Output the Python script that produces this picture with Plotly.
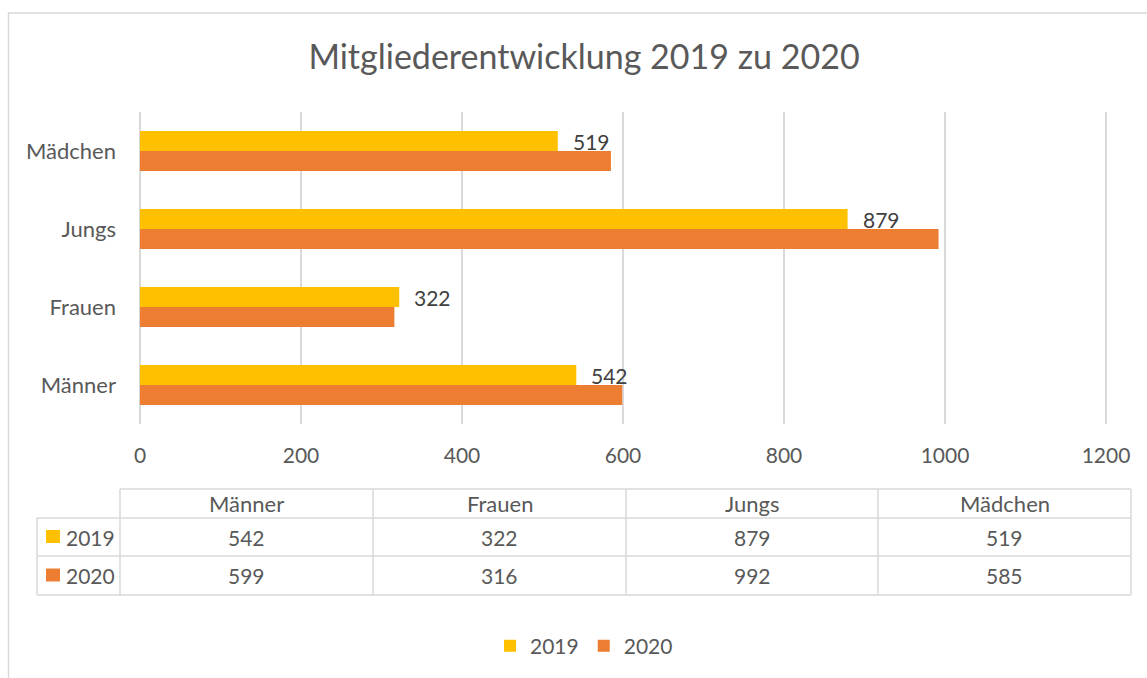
import plotly.graph_objects as go

categories = ["Männer", "Frauen", "Jungs", "Mädchen"]
series_names = ["2019", "2020"]
values_2019 = [542, 322, 879, 519]
values_2020 = [599, 316, 992, 585]
x_ticks = [0, 200, 400, 600, 800, 1000, 1200]

W, H = 1147, 678
FONT = "Lato"
TXT = "#595959"
GRID = "#D9D9D9"
C2019 = "#FFC000"
C2020 = "#ED7D31"
NUM_SIZE = 21
LBL_SIZE = 22


def px(x):
    return x / W


def py(y):
    return 1 - y / H


fig = go.Figure()
fig.add_trace(go.Bar(y=categories, x=values_2020, name="2020", orientation="h",
                     marker=dict(color=C2020, line=dict(width=0)), legendrank=2))
fig.add_trace(go.Bar(y=categories, x=values_2019, name="2019", orientation="h",
                     marker=dict(color=C2019, line=dict(width=0)), legendrank=1))

annotations = []
for c, v in zip(categories, values_2019):
    annotations.append(dict(x=v, y=c, xref="x", yref="y", text=str(v), showarrow=False,
                            xanchor="left", yanchor="middle", xshift=13, yshift=10,
                            font=dict(family=FONT, size=NUM_SIZE, color="#404040")))

shapes = []
shapes.append(dict(type="line", xref="paper", yref="paper", x0=px(8.5), x1=px(8.5), y0=py(13), y1=py(700),
                   line=dict(color=GRID, width=1.5)))
shapes.append(dict(type="line", xref="paper", yref="paper", x0=px(8), x1=px(1160), y0=py(13), y1=py(13),
                   line=dict(color=GRID, width=1.5)))

col_edges = [120, 373, 626, 878, 1131]
row_edges = [489, 518, 556, 595]
label_left = 37


def hline(y, x0, x1):
    shapes.append(dict(type="line", xref="paper", yref="paper", x0=px(x0), x1=px(x1), y0=py(y), y1=py(y),
                       line=dict(color=GRID, width=1.5)))


def vline(x, y0, y1):
    shapes.append(dict(type="line", xref="paper", yref="paper", x0=px(x), x1=px(x), y0=py(y0), y1=py(y1),
                       line=dict(color=GRID, width=1.5)))


hline(row_edges[0], col_edges[0], col_edges[-1])
for y in row_edges[1:]:
    hline(y, label_left, col_edges[-1])
vline(label_left, row_edges[1], row_edges[-1])
for x in col_edges:
    vline(x, row_edges[0], row_edges[-1])

for i, c in enumerate(categories):
    cx = (col_edges[i] + col_edges[i + 1]) / 2
    cy = (row_edges[0] + row_edges[1]) / 2
    annotations.append(dict(x=px(cx), y=py(cy), xref="paper", yref="paper", text=c, showarrow=False,
                            xanchor="center", yanchor="middle", font=dict(family=FONT, size=LBL_SIZE, color=TXT)))

rows = [("2019", values_2019, C2019), ("2020", values_2020, C2020)]
for r, (name, vals, color) in enumerate(rows):
    cy = (row_edges[r + 1] + row_edges[r + 2]) / 2
    shapes.append(dict(type="rect", xref="paper", yref="paper", x0=px(46), x1=px(60),
                       y0=py(cy - 7), y1=py(cy + 6), fillcolor=color, line=dict(width=0)))
    annotations.append(dict(x=px(64), y=py(cy), xref="paper", yref="paper", text=name, showarrow=False,
                            xanchor="left", yanchor="middle", font=dict(family=FONT, size=NUM_SIZE, color=TXT)))
    for i, v in enumerate(vals):
        cx = (col_edges[i] + col_edges[i + 1]) / 2
        annotations.append(dict(x=px(cx), y=py(cy), xref="paper", yref="paper", text=str(v), showarrow=False,
                                xanchor="center", yanchor="middle", font=dict(family=FONT, size=NUM_SIZE, color=TXT)))

# extend the range by ~2px on each side so the edge gridlines (0 and 1200) are drawn
ppu = (1106 - 140) / 1200.0
ext = 2.5
fig.update_layout(
    width=W, height=H,
    margin=dict(l=0, r=0, t=0, b=0, autoexpand=False),
    paper_bgcolor="white", plot_bgcolor="white",
    barmode="group", bargap=0.487, bargroupgap=0,
    title=dict(text="Mitgliederentwicklung 2019 zu 2020", x=px(584), xanchor="center",
               y=py(57), yanchor="middle", font=dict(family=FONT, size=34, color=TXT)),
    xaxis=dict(domain=[px(140 - ext * ppu), px(1106 + ext * ppu)], range=[-ext, 1200 + ext],
               tickvals=x_ticks, automargin=False,
               showgrid=True, gridcolor=GRID, gridwidth=1.5, zeroline=False, showline=False,
               ticks="", ticklabelstandoff=17, tickfont=dict(family=FONT, size=NUM_SIZE, color=TXT)),
    yaxis=dict(domain=[py(424), py(112)], showgrid=False, zeroline=False, showline=False, automargin=False,
               ticks="", ticklabelstandoff=21, tickfont=dict(family=FONT, size=LBL_SIZE, color=TXT)),
    legend=dict(orientation="h", x=px(584), xanchor="center", y=py(646), yanchor="middle",
                font=dict(family=FONT, size=NUM_SIZE, color=TXT), traceorder="normal"),
    shapes=shapes, annotations=annotations, showlegend=True,
)

fig.write_html("out.html", config={"displayModeBar": False},
               post_script="document.body.style.margin='0';document.body.style.overflow='hidden';")
